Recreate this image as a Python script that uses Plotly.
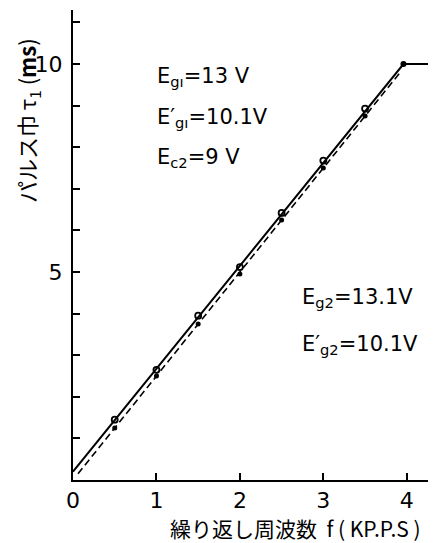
import plotly.graph_objects as go

# Data
freq_pts = [0.5, 1.0, 1.5, 2.0, 2.5, 3.0, 3.5]
tau_upper = [1.45, 2.65, 3.95, 5.12, 6.42, 7.68, 8.93]   # solid line points (open circles)
tau_lower = [1.25, 2.50, 3.75, 4.95, 6.25, 7.50, 8.75]   # dashed line points (dots)

solid_x = [0.0, 3.96, 4.28]
solid_y = [0.2, 10.0, 10.0]
dashed_x = [0.06, 3.92]
dashed_y = [0.15, 9.8]
knee_x = [3.96]
knee_y = [10.0]

x_tickvals = [0, 1, 2, 3, 4]
x_ticktext = ["0", "1", "2", "3", "4"]
y_tickvals = [5, 10]
y_ticktext = ["5", "10"]

FONT = "DejaVu Sans"

fig = go.Figure()
fig.add_trace(go.Scatter(x=solid_x, y=solid_y, mode="lines",
                         line=dict(color="black", width=2), showlegend=False))
fig.add_trace(go.Scatter(x=dashed_x, y=dashed_y, mode="lines",
                         line=dict(color="black", width=1.6, dash="7px,4px"), showlegend=False))
fig.add_trace(go.Scatter(x=freq_pts, y=tau_upper, mode="markers",
                         marker=dict(symbol="circle-open", size=6, color="black",
                                     line=dict(width=1.8, color="black")), showlegend=False))
fig.add_trace(go.Scatter(x=freq_pts, y=tau_lower, mode="markers",
                         marker=dict(symbol="circle", size=5, color="black"), showlegend=False))
fig.add_trace(go.Scatter(x=knee_x, y=knee_y, mode="markers",
                         marker=dict(symbol="circle", size=6, color="black"), showlegend=False))

ann_font = dict(family=FONT, size=21, color="black")
texts = [
    (0.98, 9.69, "E<sub>gı</sub>=13 V"),
    (0.98, 8.70, "E′<sub>gı</sub>=10.1V"),
    (0.98, 7.74, "E<sub>c2</sub>=9 V"),
    (2.72, 4.375, "E<sub>g2</sub>=13.1V"),
    (2.72, 3.245, "E′<sub>g2</sub>=10.1V"),
]
for x, y, t in texts:
    fig.add_annotation(x=x, y=y, xref="x", yref="y", text=t, showarrow=False,
                       xanchor="left", yanchor="middle", font=ann_font)

fig.add_annotation(x=-0.125, y=0.765, xref="paper", yref="paper",
                   text="パルス巾 τ<sub>1</sub> (<b>ms</b>)", textangle=-90, showarrow=False,
                   xanchor="center", yanchor="middle",
                   font=dict(family="Noto Sans CJK JP", size=22, color="black"))
fig.add_annotation(x=0.612, y=-0.102, xref="paper", yref="paper",
                   text="繰り返し周波数  f ( KP.P.S )", showarrow=False,
                   xanchor="center", yanchor="middle",
                   font=dict(family="Noto Sans CJK JP", size=21, color="black"))

# page body has an 8px margin, so the figure is offset by 8px right and down
fig.update_layout(
    width=428, height=535,
    margin=dict(l=65, r=0, t=2, b=63),
    paper_bgcolor="white", plot_bgcolor="white",
    font=dict(family=FONT, color="black"),
    xaxis=dict(range=[0, 4.35], showgrid=False, zeroline=False, showline=True,
               linecolor="black", linewidth=2, ticks="inside", ticklen=7, tickwidth=1.5,
               tickcolor="black", tickvals=x_tickvals, ticktext=x_ticktext,
               tickfont=dict(family=FONT, size=22, color="black"), ticklabelstandoff=0),
    yaxis=dict(range=[0, 11.3], showgrid=False, zeroline=False, showline=True,
               linecolor="black", linewidth=2, ticks="inside", ticklen=7, tickwidth=1.5,
               tickcolor="black", tickvals=y_tickvals, ticktext=y_ticktext,
               minor=dict(ticks="inside", dtick=1, ticklen=7, tickwidth=1.5, tickcolor="black",
                          showgrid=False),
               tickfont=dict(family=FONT, size=22, color="black"), ticklabelstandoff=4),
)

fig.write_html("out.html")
